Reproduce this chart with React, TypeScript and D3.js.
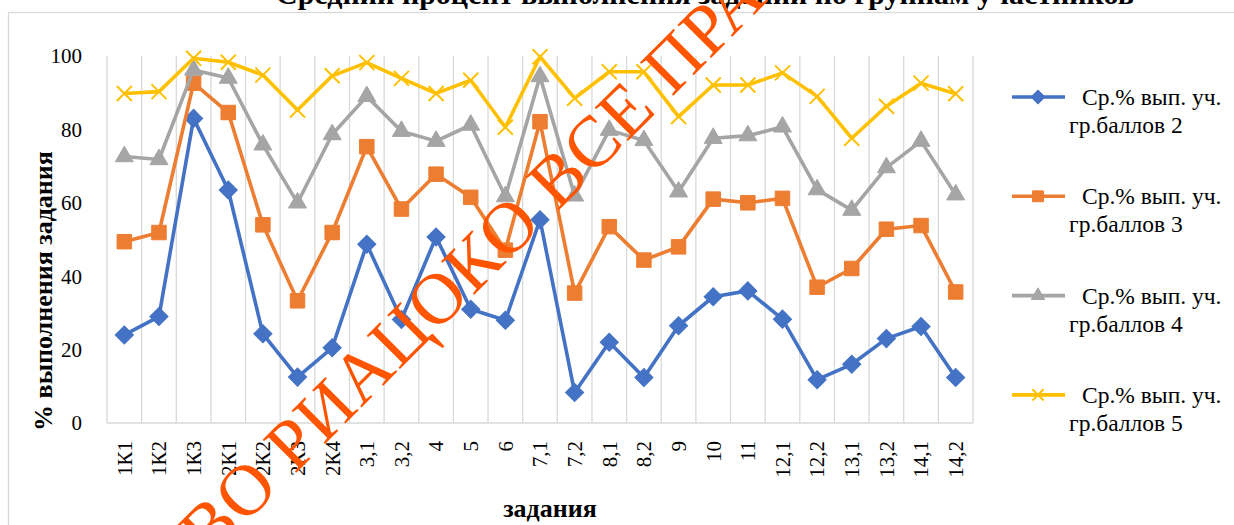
import React from 'react';
import * as d3 from 'd3';

const categories = [
  '1К1', '1К2', '1К3', '2К1', '2К2', '2К3', '2К4', '3,1', '3,2', '4', '5', '6', '7,1',
  '7,2', '8,1', '8,2', '9', '10', '11', '12,1', '12,2', '13,1', '13,2', '14,1', '14,2',
];

const group2 = [24, 29, 83, 63.5, 24.3, 12.5, 20.5, 48.7, 28.2, 50.7, 31, 28, 55.4, 8.3, 22, 12.4, 26.5, 34.4, 36, 28.3, 11.8, 16, 23, 26.3, 12.4];
const group3 = [49.4, 51.9, 92.6, 84.6, 54, 33.3, 51.9, 75.3, 58.3, 67.8, 61.5, 47.1, 82.1, 35.4, 53.5, 44.4, 48, 61, 60, 61.2, 37, 42.1, 52.8, 53.8, 35.7];
const group4 = [72.6, 71.8, 96.2, 94, 75.8, 60, 78.6, 89, 79.5, 76.8, 81.2, 61.7, 94.4, 61.9, 79.8, 77, 63, 77.6, 78.3, 80.7, 63.6, 58, 69.6, 76.8, 62.2];
const group5 = [89.8, 90.3, 99.4, 98.3, 94.8, 85.3, 94.6, 98.2, 93.9, 89.8, 93.4, 80.6, 99.8, 88.5, 95.7, 95.7, 83.5, 92.1, 92.1, 95.4, 89, 77.6, 86.3, 92.6, 89.7];

const legendLine1 = 'Ср.% вып. уч.';
const legendLine2 = ['гр.баллов 2', 'гр.баллов 3', 'гр.баллов 4', 'гр.баллов 5'];
const yTicks = [0, 20, 40, 60, 80, 100];

const titleText = 'Средний процент выполнения заданий по группам участников';
const yTitle = '% выполнения задания';
const xTitle = 'задания';
const watermark = 'ВО РИАЦОКО ВСЕ ПРАВА ЗАЩИЩЕНЫ';

const colors = ['#4472C4', '#ED7D31', '#A5A5A5', '#FFC000'];
const markerKinds = ['diamond', 'square', 'triangle', 'x'];

const W = 1234;
const H = 525;
const plot = { left: 107, right: 973, top: 56, bottom: 423 };
const FONT = 'Liberation Serif';

const symbolPath = (kind: string, scale = 1) => {
  if (kind === 'diamond') return d3.symbol().type(d3.symbolSquare).size(165 * scale * scale)();
  if (kind === 'square') return d3.symbol().type(d3.symbolSquare).size(210 * scale * scale)();
  if (kind === 'triangle') return d3.symbol().type(d3.symbolTriangle).size(140 * scale * scale)();
  const r = 7.5 * scale;
  return `M${-r},${-r}L${r},${r}M${-r},${r}L${r},${-r}`;
};

const Marker = ({ kind, color, x, y, scale = 1 }: { kind: string; color: string; x: number; y: number; scale?: number }) => {
  const d = symbolPath(kind, scale) as string;
  if (kind === 'x') {
    return <path d={d} transform={`translate(${x},${y})`} fill="none" stroke={color} strokeWidth={2} />;
  }
  const rot = kind === 'diamond' ? ' rotate(45)' : '';
  return <path d={d} transform={`translate(${x},${y})${rot}`} fill={color} stroke={color} strokeWidth={1} />;
};

export default function App() {
  const series = [group2, group3, group4, group5];

  const x = d3.scaleBand<string>().domain(categories).range([plot.left, plot.right]).padding(0);
  const y = d3.scaleLinear().domain([0, 100]).range([plot.bottom, plot.top]);
  const cx = (c: string) => (x(c) as number) + x.bandwidth() / 2;

  const line = d3
    .line<number>()
    .x((_, i) => cx(categories[i]))
    .y((d) => y(d));

  const gridXs = categories.map((c) => x(c) as number).concat([plot.right]);

  return (
    <svg width={W} height={H} style={{ position: 'absolute', left: 0, top: 0, display: 'block', background: '#fff' }}>
      <rect x={0} y={0} width={W} height={H} fill="#fff" />
      <text x={705} y={4} textAnchor="middle" fontFamily={FONT} fontSize={30} fontWeight="bold" fill="#000">
        {titleText}
      </text>
      <rect x={8.5} y={12.5} width={1300} height={600} fill="none" stroke="#d9d9d9" strokeWidth={1.3} />

      {/* vertical gridlines */}
      <g>
        {gridXs.map((gx, i) => (
          <line key={i} x1={gx} x2={gx} y1={plot.top} y2={plot.bottom} stroke="#d9d9d9" strokeWidth={1.3} />
        ))}
        <line x1={plot.left} x2={plot.right} y1={plot.bottom} y2={plot.bottom} stroke="#d9d9d9" strokeWidth={1.5} />
      </g>

      {/* y ticks */}
      {yTicks.map((t) => (
        <text key={t} x={82} y={y(t)} dy="0.35em" textAnchor="end" fontFamily={FONT} fontSize={21} fill="#000">
          {t}
        </text>
      ))}

      {/* x labels */}
      {categories.map((c) => (
        <text
          key={c}
          transform={`translate(${cx(c)},441) rotate(-90)`}
          dy="0.35em"
          textAnchor="end"
          fontFamily={FONT}
          fontSize={21}
          fill="#000"
        >
          {c}
        </text>
      ))}

      <text
        transform={`translate(43,291) rotate(-90)`}
        dy="0.35em"
        textAnchor="middle"
        fontFamily={FONT}
        fontSize={26}
        fontWeight="bold"
      >
        {yTitle}
      </text>
      <text x={550} y={517} textAnchor="middle" fontFamily={FONT} fontSize={26} fontWeight="bold">
        {xTitle}
      </text>

      {/* series */}
      {series.map((vals, si) => (
        <g key={si}>
          <path d={line(vals) as string} fill="none" stroke={colors[si]} strokeWidth={3.6} strokeLinejoin="round" />
          {vals.map((v, i) => (
            <Marker key={i} kind={markerKinds[si]} color={colors[si]} x={cx(categories[i])} y={y(v)} />
          ))}
        </g>
      ))}

      {/* legend */}
      {legendLine2.map((l2, i) => {
        const ly = 97 + i * 99.3;
        return (
          <g key={i}>
            <line x1={1012} x2={1065} y1={ly} y2={ly} stroke={colors[i]} strokeWidth={3.6} />
            <Marker kind={markerKinds[i]} color={colors[i]} x={1038} y={ly} scale={0.75} />
            <text x={1082} y={ly + 8} fontFamily={FONT} fontSize={23.5}>
              {legendLine1}
            </text>
            <text x={1069} y={ly + 36} fontFamily={FONT} fontSize={23.5}>
              {l2}
            </text>
          </g>
        );
      })}

      {/* watermark */}
      <text transform="translate(209,560) rotate(-45)" fontFamily={FONT} fontSize={72} letterSpacing={1} fill="#FF5500">
        {watermark}
      </text>
    </svg>
  );
}
